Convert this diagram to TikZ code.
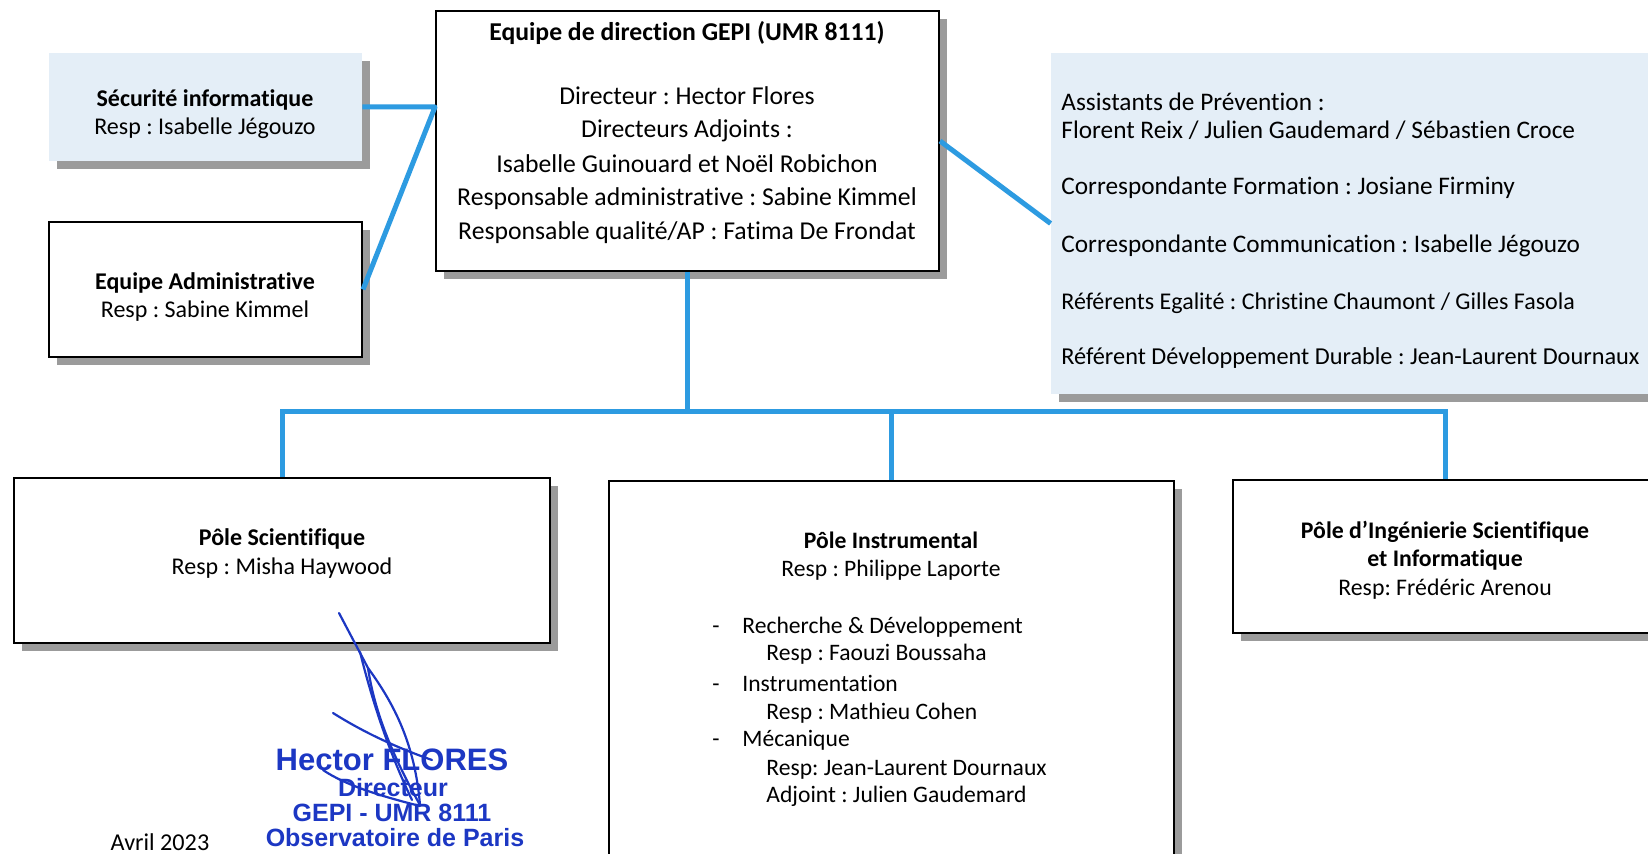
\documentclass[tikz,border=0pt]{standalone}
\usepackage{fontspec}
\setmainfont{Carlito}[Ligatures=CommonOff]
\newfontfamily\stampfont{Liberation Sans}
\usetikzlibrary{shadows}
\frenchspacing
\definecolor{linkblue}{RGB}{45,155,225}
\definecolor{paleblue}{RGB}{228,238,247}
\definecolor{stampblue}{RGB}{28,55,195}
\definecolor{shadowgray}{RGB}{155,155,155}
\tikzset{
 boxshadow/.style={drop shadow={shadow xshift=4pt,shadow yshift=-4pt,fill=shadowgray,opacity=1}},
 whitebox/.style={draw=black,line width=1pt,fill=white,boxshadow,inner sep=0pt},
 bluebox/.style={fill=paleblue,boxshadow,inner sep=0pt},
 conn/.style={draw=linkblue,line width=2.5pt},
 txt/.style={inner sep=0pt,anchor=base,font=\fontsize{#1}{15}\selectfont},
 txt/.default=12.85,
 btxt/.style={inner sep=0pt,anchor=base,font=\fontsize{#1}{15}\selectfont\bfseries},
 btxt/.default=12.85,
 ltxt/.style={txt=#1,anchor=base west},
 ltxt/.default=12.85,
 stamp/.style={inner sep=0pt,text=stampblue,font=\stampfont\bfseries\fontsize{12.5}{14}\selectfont},
 sig/.style={draw=stampblue,line width=1.1pt,line cap=round},
}
\begin{document}
\begin{tikzpicture}[x=0.5pt,y=-0.5pt]
\clip (0,0) rectangle (1648,854);
\fill[white] (0,0) rectangle (1648,854);

% boxes
\node[bluebox,minimum width=156.5pt,minimum height=54pt] (sec) at (205.5,107) {};
\node[whitebox,minimum width=156.5pt,minimum height=67.5pt] (adm) at (205.5,289.5) {};
\node[whitebox,minimum width=251.5pt,minimum height=130pt] (dir) at (687.5,141) {};
\node[bluebox,minimum width=307pt,minimum height=170.5pt] (rbox) at (1358,223.5) {};
\node[whitebox,minimum width=268pt,minimum height=82.5pt] (sci) at (282,560.5) {};
\node[whitebox,minimum width=282.5pt,minimum height=209.5pt] (instr) at (891.5,690.5) {};
\node[whitebox,minimum width=212pt,minimum height=76.5pt] (ing) at (1445,556.5) {};

% connectors
\coordinate (dj) at (dir.west |- sec.east);
\coordinate (hy) at (0,412);
\draw[conn,line join=round] (sec.east) -- (dj) -- (adm.east);
\draw[conn] (dir.east) -- (rbox.west);
\draw[conn] (dir.south) -- (dir.south |- hy);
\draw[conn,line join=miter] (sci.north) -- (sci.north |- hy) -- (ing.north |- hy) -- (ing.north);
\draw[conn] (instr.north |- hy) -- (instr.north);

% texts: security / admin
\node[btxt=12] (sec1) at (205,107) {Sécurité informatique};
\node[txt=12] (sec2) at (205,135) {Resp : Isabelle Jégouzo};
\node[btxt=12] (adm1) at (205,290) {Equipe Administrative};
\node[txt=12] (adm2) at (205,318) {Resp : Sabine Kimmel};

% direction
\node[btxt] (d0) at (687,41) {Equipe de direction GEPI (UMR 8111)};
\node[txt] (d1) at (687,105) {Directeur : Hector Flores};
\node[txt] (d2) at (687,138) {Directeurs Adjoints :};
\node[txt] (d3) at (687,173) {Isabelle Guinouard et Noël Robichon};
\node[txt] (d4) at (687,206) {Responsable administrative : Sabine Kimmel};
\node[txt] (d5) at (687,240) {Responsable qualité/AP : Fatima De Frondat};

% right box
\node[ltxt=12.65] (r1) at (1061,111) {Assistants de Prévention :};
\node[ltxt=12.65] (r2) at (1061,139) {Florent Reix / Julien Gaudemard / Sébastien Croce};
\node[ltxt=12.65] (r3) at (1061,195) {Correspondante Formation : Josiane Firminy};
\node[ltxt=12.65] (r4) at (1061,253) {Correspondante Communication : Isabelle Jégouzo};
\node[ltxt=12.0] (r5) at (1061,310) {Référents Egalité : Christine Chaumont / Gilles Fasola};
\node[ltxt=12.15] (r6) at (1061,365) {Référent Développement Durable : Jean-Laurent Dournaux};

% pole scientifique
\node[btxt=12] (s1) at (282,546) {Pôle Scientifique};
\node[txt=12] (s2) at (282,575) {Resp : Misha Haywood};

% pole instrumental
\node[btxt=11.8] (i1) at (891,549) {Pôle Instrumental};
\node[txt=11.8] (i2) at (891,577) {Resp : Philippe Laporte};
\node[ltxt=11.8] (ia) at (712,633) {-};
\node[ltxt=11.8] (i3) at (742,633) {Recherche \& Développement};
\node[ltxt=11.8] (i4) at (766,661) {Resp : Faouzi Boussaha};
\node[ltxt=11.8] (ib) at (712,691) {-};
\node[ltxt=11.8] (i5) at (742,691) {Instrumentation};
\node[ltxt=11.8] (i6) at (766,719) {Resp : Mathieu Cohen};
\node[ltxt=11.8] (ic) at (712,746) {-};
\node[ltxt=11.8] (i7) at (742,746) {Mécanique};
\node[ltxt=11.8] (i8) at (766,775) {Resp: Jean-Laurent Dournaux};
\node[ltxt=11.8] (i9) at (766,802) {Adjoint : Julien Gaudemard};

% pole ingenierie
\node[btxt=11.9] (g1) at (1445,539) {Pôle d’Ingénierie Scientifique};
\node[btxt=11.9] (g2) at (1445,567) {et Informatique};
\node[txt=11.9] (g3) at (1445,596) {Resp: Frédéric Arenou};

% date
\node[txt=12.1] (date) at (160,850) {Avril 2023};

% stamp
\node[stamp,font=\stampfont\bfseries\fontsize{15.5}{17}\selectfont] (st1) at (392,760) {Hector FLORES};
\node[stamp] (st2) at (393,788) {Directeur};
\node[stamp] (st3) at (392,813) {GEPI - UMR 8111};
\node[stamp] (st4) at (395,838) {Observatoire de Paris};

% signature
\draw[sig] (339,613) -- (368,668) .. controls (395,705) and (415,745) .. (420,805);
\draw[sig] (368,668) .. controls (375,715) and (395,760) .. (420,805);
\draw[sig] (360,652) .. controls (372,700) and (388,750) .. (412,800);
\draw[sig] (333,713) .. controls (360,730) and (392,746) .. (432,760);
\draw[sig] (323,770) .. controls (345,785) and (380,796) .. (420,806);
\end{tikzpicture}
\end{document}
